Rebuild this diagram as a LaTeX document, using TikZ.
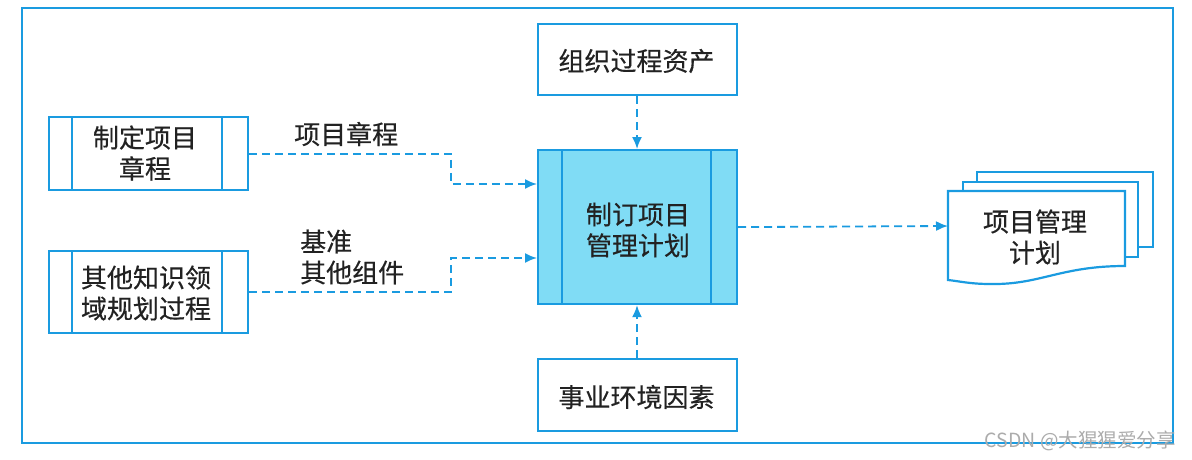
\documentclass[tikz,border=0pt]{standalone}
\usepackage{fontspec}
\newfontfamily\cjk[FakeBold=0.4]{Noto Sans CJK SC}
\newfontfamily\cjkwm{Noto Sans CJK SC}
\usetikzlibrary{arrows.meta}
\definecolor{lblue}{HTML}{1A9BE0}
\definecolor{cfill}{HTML}{80DCF5}
\definecolor{txt}{HTML}{222222}
\tikzset{
  frame/.style={draw=lblue, line width=2.2pt},
  box/.style={draw=lblue, line width=2.2pt, fill=white},
  lbl/.style={font=\cjk\fontsize{26}{31}\selectfont, text=txt, align=center, inner sep=0pt},
  flow/.style={draw=lblue, line width=1.8pt, dash pattern=on 8pt off 5pt, -{Latex[length=12pt,width=10pt]}},
}
\begin{document}
\begin{tikzpicture}[x=1pt,y=-1pt]
\useasboundingbox (0,0) rectangle (1192,460);
\fill[white] (0,0) rectangle (1192,460);
% outer frame
\draw[frame] (22,8) rectangle (1173,443);

% left boxes
\node[box, minimum width=199pt, minimum height=73pt, anchor=north west, inner sep=0pt] (b1) at (48,116) {};
\draw[frame] (72,116) -- (72,189) (222,116) -- (222,189);
\node[lbl] (t1) at (145,153) {制定项目\\章程};

\node[box, minimum width=199pt, minimum height=82pt, anchor=north west, inner sep=0pt] (b2) at (48,250) {};
\draw[frame] (72,250) -- (72,332) (222,250) -- (222,332);
\node[lbl] (t2) at (146,293) {其他知识领\\域规划过程};

% top and bottom boxes
\node[box, minimum width=199pt, minimum height=71pt, anchor=north west, inner sep=0pt] (top) at (537,23) {};
\node[lbl] (ttop) at (636.5,61) {组织过程资产};
\node[box, minimum width=199pt, minimum height=72pt, anchor=north west, inner sep=0pt] (bot) at (537,358) {};
\node[lbl] (tbot) at (636.5,397) {事业环境因素};

% center box
\node[draw=lblue, line width=2.2pt, fill=cfill, minimum width=199pt, minimum height=154pt, anchor=north west, inner sep=0pt] (c) at (537,149) {};
\draw[frame] (562,149) -- (562,303) (711,149) -- (711,303);
\node[lbl] (tc) at (638,230) {制订项目\\管理计划};

% labels
\node[lbl, anchor=west] (l1) at (294,134) {项目章程};
\node[lbl, anchor=west, align=left] (l2) at (300,257) {基准\\其他组件};

% connectors
\draw[flow] (b1.east) -- (b1.east -| 451,0) -- (451,184) -- (c.west |- 0,184);
\draw[flow] (b2.east) -- (b2.east -| 451,0) -- (451,258) -- (c.west |- 0,258);
\draw[flow] (top.south -| 637,0) -- (c.north -| 637,0);
\draw[flow] (bot.north -| 637,0) -- (c.south -| 637,0);

% document stack
\draw[box] (977,172) -- (1153,172) -- (1153,247) -- (1138,247) -- (1138,182) -- (977,182) -- cycle;
\draw[box] (963,182) -- (1138,182) -- (1138,257) -- (1125,257) -- (1125,191) -- (963,191) -- cycle;
\draw[box] (948,191) -- (1125,191) -- (1125,266)
  .. controls (1060,266) and (1040,285) .. (990,284)
  .. controls (970,284) and (958,281) .. (948,280) -- cycle;
\coordinate (doc) at (948,226);
\node[lbl] (td) at (1035,237) {项目管理\\计划};
\draw[flow] (c.east) -- (doc);

% watermark
\node[font=\cjkwm\fontsize{19.5}{22}\selectfont, text=gray!65, anchor=east, inner sep=0pt] (wm) at (1176,441) {CSDN @大猩猩爱分享};
\end{tikzpicture}
\end{document}
